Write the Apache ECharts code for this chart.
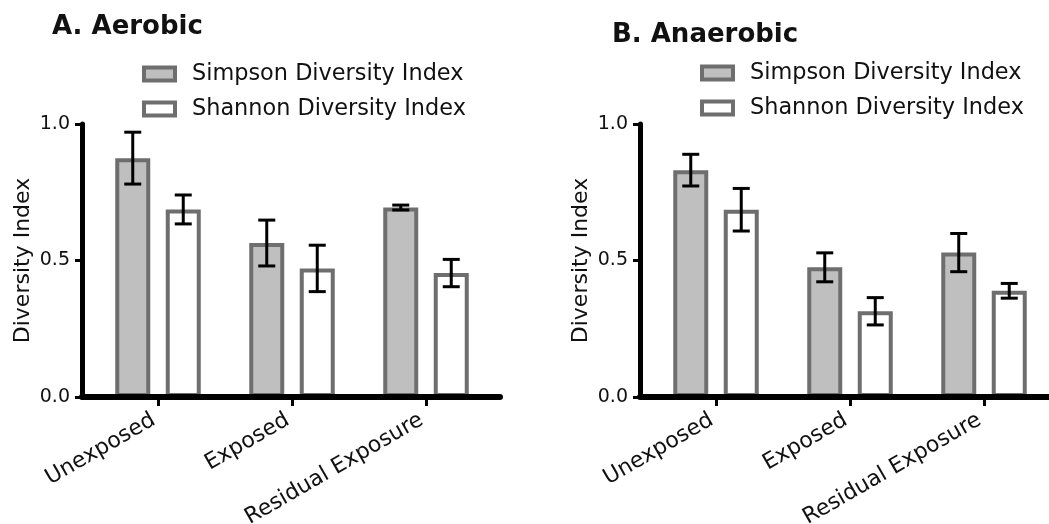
<!DOCTYPE html>
<html><head><meta charset="utf-8">
<script src="https://cdn.jsdelivr.net/npm/echarts@6/dist/echarts.min.js"></script>
<style>html,body{margin:0;padding:0;background:#fff}#c{width:1049px;height:524px}</style>
</head><body><div id="c"></div>
<script>
const categories = ['Unexposed', 'Exposed', 'Residual Exposure'];
const seriesNames = ['Simpson Diversity Index', 'Shannon Diversity Index'];
const panelTitles = ['A. Aerobic', 'B. Anaerobic'];
const yAxisName = 'Diversity Index';
const yTicks = [0, 0.5, 1.0];
const aerobicSimpson = [0.875, 0.564, 0.694];
const aerobicSimpsonErr = [0.095, 0.084, 0.009];
const aerobicShannon = [0.687, 0.471, 0.454];
const aerobicShannonErr = [0.053, 0.085, 0.050];
const anaerobicSimpson = [0.831, 0.475, 0.529];
const anaerobicSimpsonErr = [0.058, 0.053, 0.070];
const anaerobicShannon = [0.686, 0.314, 0.389];
const anaerobicShannonErr = [0.078, 0.050, 0.027];

const FONT = 'DejaVu Sans';
const BORDER = '#6e6e6e';
const FILLS = ['#bfbfbf', '#ffffff'];
const BAR_W = 35, BAR_GAP = 0.443;
const BAR_OFFSET = BAR_W * (1 + BAR_GAP) / 2;

const panels = [
  {frameLeft: 82, frameWidth: 418, barLeft: 91, titleLeft: 47, titleTop: 9, legendLeft: 137, legendTop: 58,
   data: [[aerobicSimpson, aerobicSimpsonErr], [aerobicShannon, aerobicShannonErr]]},
  {frameLeft: 640, frameWidth: 409, barLeft: 649, titleLeft: 607, titleTop: 17, legendLeft: 695, legendTop: 57,
   data: [[anaerobicSimpson, anaerobicSimpsonErr], [anaerobicShannon, anaerobicShannonErr]]}
];
const GRID_TOP = 124, GRID_H = 273, BAR_GRID_W = 402;

function errRender(sign) {
  return function (params, api) {
    const x = api.value(0), y = api.value(1), e = api.value(2);
    const top = api.coord([x, y + e]);
    const bot = api.coord([x, y - e]);
    const cx = top[0] + sign * BAR_OFFSET;
    const cap = 8.5;
    const style = {stroke: '#000', lineWidth: 3};
    return {type: 'group', children: [
      {type: 'line', shape: {x1: cx, y1: top[1], x2: cx, y2: bot[1]}, style: style},
      {type: 'line', shape: {x1: cx - cap, y1: top[1], x2: cx + cap, y2: top[1]}, style: style},
      {type: 'line', shape: {x1: cx - cap, y1: bot[1], x2: cx + cap, y2: bot[1]}, style: style}
    ]};
  };
}

const option = {
  animation: false,
  backgroundColor: '#fff',
  title: [], legend: [], grid: [], xAxis: [], yAxis: [], series: []
};

panels.forEach(function (p, pi) {
  option.title.push({text: panelTitles[pi], left: p.titleLeft, top: p.titleTop,
    textStyle: {fontFamily: FONT, fontSize: 26, fontWeight: 'bold', color: '#111'}});
  option.legend.push({
    orient: 'vertical', left: p.legendLeft, top: p.legendTop, icon: 'rect',
    itemWidth: 31, itemHeight: 13, itemGap: 13, selectedMode: false,
    textStyle: {fontFamily: FONT, fontSize: 22.4, color: '#111', lineHeight: 22, padding: [0, 0, 0, 12]},
    data: seriesNames.map(function (n, i) {
      return {name: n, itemStyle: {color: FILLS[i], borderColor: BORDER, borderWidth: 4}};
    })
  });
  const g0 = option.grid.length;
  option.grid.push({left: p.frameLeft, top: GRID_TOP, width: p.frameWidth, height: GRID_H, outerBoundsMode: 'none', containLabel: false});
  option.grid.push({left: p.barLeft, top: GRID_TOP, width: BAR_GRID_W, height: GRID_H, outerBoundsMode: 'none', containLabel: false});
  option.xAxis.push({type: 'value', gridIndex: g0, min: 0, max: 1, z: 10,
    axisLine: {show: true, lineStyle: {color: '#000', width: 6}},
    axisTick: {show: false}, axisLabel: {show: false}, splitLine: {show: false}});
  option.yAxis.push({type: 'value', gridIndex: g0, min: yTicks[0], max: yTicks[yTicks.length - 1], interval: 0.5, z: 10,
    name: yAxisName, nameLocation: 'middle', nameGap: 48,
    nameTextStyle: {fontFamily: FONT, fontSize: 22, color: '#111'},
    axisLine: {show: true, lineStyle: {color: '#000', width: 5}},
    axisTick: {show: true, length: 7, lineStyle: {color: '#000', width: 3}},
    axisLabel: {margin: 12, fontFamily: FONT, fontSize: 19, color: '#111', formatter: function (v) { return v.toFixed(1); }},
    splitLine: {show: false}});
  const xi = option.xAxis.length;
  option.xAxis.push({type: 'category', gridIndex: g0 + 1, data: categories, z: 10,
    axisLine: {show: false},
    axisTick: {show: true, alignWithLabel: true, length: 9, lineStyle: {color: '#000', width: 3}},
    axisLabel: {rotate: 30, margin: 19, padding: [0, 5, 0, 0], fontFamily: FONT, fontSize: 22, color: '#111', interval: 0}});
  const yi = option.yAxis.length;
  option.yAxis.push({type: 'value', gridIndex: g0 + 1, min: 0, max: 1, show: false});
  p.data.forEach(function (d, si) {
    option.series.push({type: 'bar', name: seriesNames[si], xAxisIndex: xi, yAxisIndex: yi,
      barWidth: BAR_W, barGap: (BAR_GAP * 100) + '%', data: d[0],
      itemStyle: {color: FILLS[si], borderColor: BORDER, borderWidth: 4},
      emphasis: {disabled: true}});
  });
  p.data.forEach(function (d, si) {
    option.series.push({type: 'custom', name: seriesNames[si] + ' error', xAxisIndex: xi, yAxisIndex: yi, z: 5,
      renderItem: errRender(si === 0 ? -1 : 1),
      data: d[0].map(function (v, i) { return [i, v, d[1][i]]; })});
  });
});

const chart = echarts.init(document.getElementById('c'), null, {renderer: 'canvas'});
chart.setOption(option);
</script></body></html>
